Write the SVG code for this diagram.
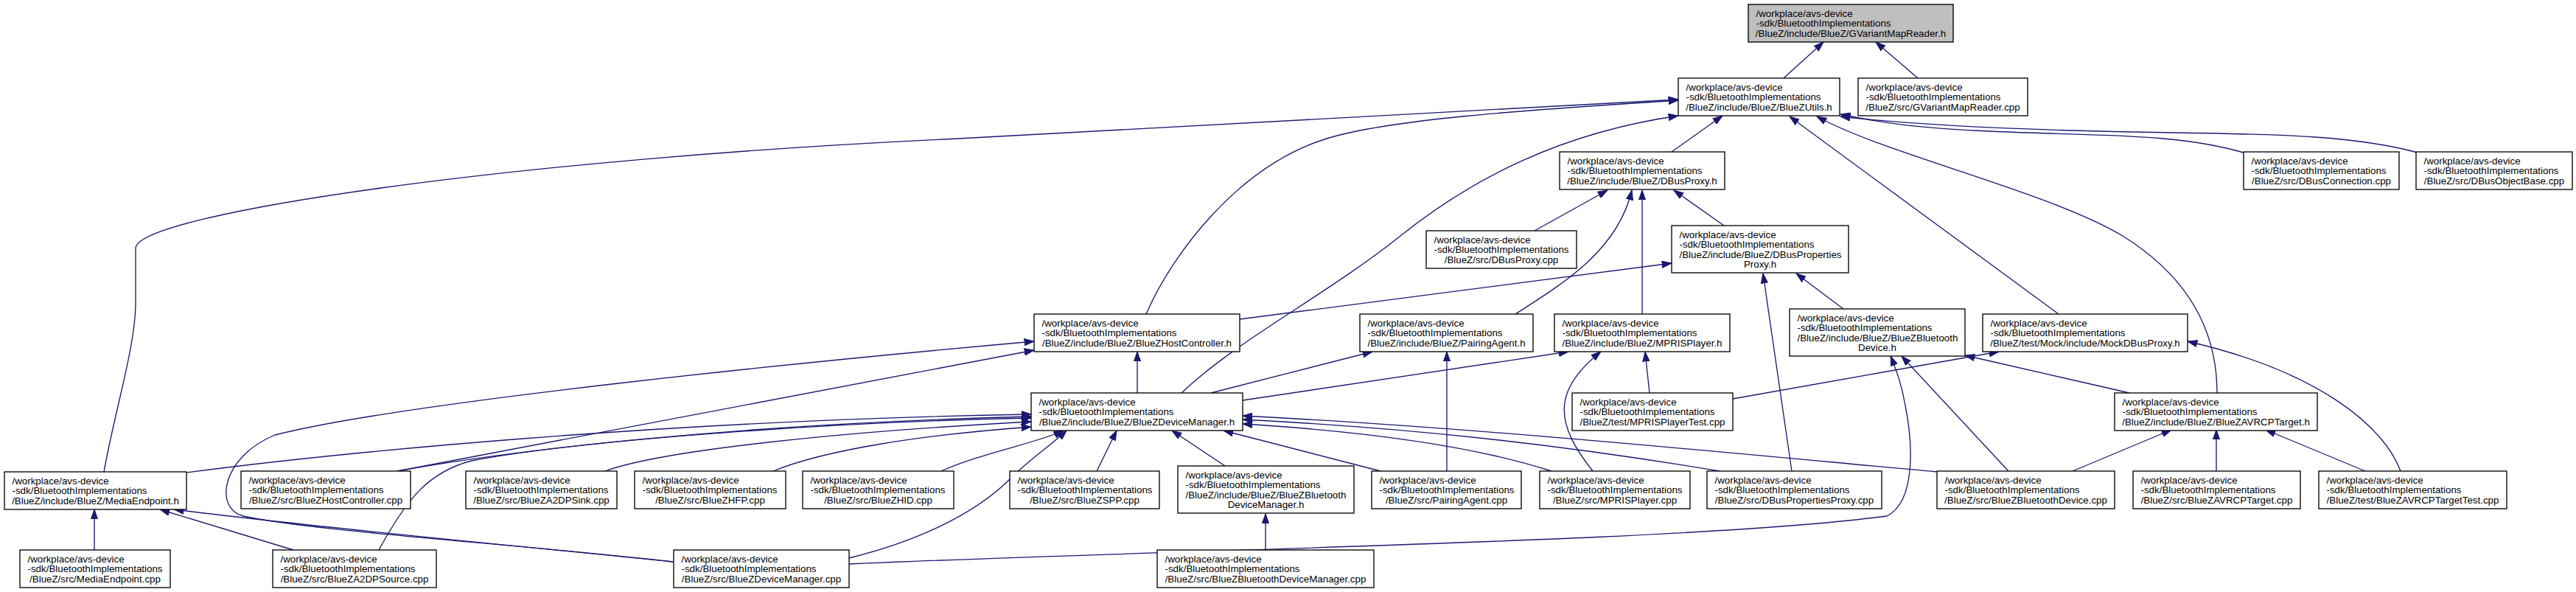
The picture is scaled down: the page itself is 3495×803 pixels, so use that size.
<svg xmlns="http://www.w3.org/2000/svg" width="3495" height="803" viewBox="0 0 3495 803">
<style>
.bg{fill:#ffffff}
.n rect{fill:#ffffff;stroke:#000000;stroke-width:1.33}
.n.root rect{fill:#bfbfbf}
.n text{font-family:"Liberation Sans",Arial,Helvetica,sans-serif;font-size:13.33px;fill:#000000}
.n .c{text-anchor:middle}
#edges path{fill:none;stroke:#191970;stroke-width:1.33;marker-end:url(#ah)}
</style>
<defs>
<marker id="ah" viewBox="0 0 14 10" refX="13.3" refY="5" markerWidth="14" markerHeight="10" markerUnits="userSpaceOnUse" orient="auto">
<path d="M0,0.3 L13.3,5 L0,9.7 Z" fill="#191970" stroke="#191970" stroke-width="1"/>
</marker>
</defs>
<rect class="bg" x="0" y="0" width="3495" height="803"/>

<g id="edges">
<path d="M2420,106 L2474,57"/>
<path d="M2602,106 L2545,57"/>
<path d="M2268,206 L2337,157"/>
<path d="M3044,207 C2950,180 2850,185 2700,178 C2600,174 2550,166 2497,155"/>
<path d="M3280,207 C3200,185 3100,182 2950,180 C2750,177 2600,170 2497,158"/>
<path d="M141,640 C155,560 184,470 184,410 L184,337 C184,290 700,215 1300,188 L2277,135"/>
<path d="M1555,426 C1590,345 1680,225 1800,188 C1900,157 2150,145 2277,136"/>
<path d="M1603,533 C1680,460 1800,400 1900,320 C2000,240 2120,180 2277,157"/>
<path d="M2793,426 L2428,158"/>
<path d="M3008,533 C3008,440 2960,370 2880,320 C2780,260 2560,210 2465,158"/>
<path d="M2082,313 L2181,258"/>
<path d="M2339,306 L2271,258"/>
<path d="M2056,426 C2120,385 2195,340 2214,258"/>
<path d="M2228,426 L2228,258"/>
<path d="M1682,433 L2268,357"/>
<path d="M2501,419 L2437,371"/>
<path d="M2431,639 L2392,371"/>
<path d="M1543,533 L1543,477"/>
<path d="M539,639 L1403,475"/>
<path d="M913,762 C700,738 420,720 330,700 C290,690 300,620 373,590 C550,545 1100,490 1403,463"/>
<path d="M1643,533 L1862,477"/>
<path d="M1963,639 L1963,477"/>
<path d="M1686,543 L2128,477"/>
<path d="M2238,533 L2232,477"/>
<path d="M2161,639 C2110,575 2105,530 2172,477"/>
<path d="M2351,541 L2712,477"/>
<path d="M3257,639 C3235,580 3150,505 2968,463"/>
<path d="M2889,533 L2666,482"/>
<path d="M2725,639 L2580,483"/>
<path d="M1152,765 C1600,745 2300,735 2560,700 C2600,680 2595,600 2585,550 C2580,520 2572,500 2565,483"/>
<path d="M253,641 C450,615 900,570 1399,562"/>
<path d="M539,639 C700,610 1000,575 1399,565"/>
<path d="M514,746 C550,680 580,640 640,625 C800,595 1150,572 1399,567"/>
<path d="M821,639 C900,610 1150,585 1399,572"/>
<path d="M1049,639 C1120,610 1250,590 1399,579"/>
<path d="M1277,639 C1330,615 1410,600 1443,584"/>
<path d="M1488,639 L1515,584"/>
<path d="M1662,632 L1590,584"/>
<path d="M1873,639 L1660,584"/>
<path d="M2105,639 C2000,605 1850,585 1686,575"/>
<path d="M2333,639 C2100,600 1900,580 1686,569"/>
<path d="M2628,640 C2300,610 2000,580 1686,564"/>
<path d="M1152,757 C1260,730 1330,690 1370,650 C1400,620 1425,605 1447,584"/>
<path d="M1717,746 L1717,697"/>
<path d="M2812,639 L2946,583"/>
<path d="M3007,639 L3007,583"/>
<path d="M3209,639 L3074,583"/>
<path d="M128,746 L128,691"/>
<path d="M398,746 L217,691"/>
<path d="M913,762 C700,740 450,718 236,691"/>
</g>

<g id="n_gvmr_h" class="n root"><rect x="2372" y="6" width="278" height="51"/><text><tspan x="2382.5" y="23">/workplace/avs-device</tspan><tspan x="2382.5" y="36.3">-sdk/BluetoothImplementations</tspan><tspan class="c" x="2511" y="49.7">/BlueZ/include/BlueZ/GVariantMapReader.h</tspan></text></g>
<g id="n_utils" class="n"><rect x="2277" y="106" width="219" height="51"/><text><tspan x="2287.5" y="123">/workplace/avs-device</tspan><tspan x="2287.5" y="136.3">-sdk/BluetoothImplementations</tspan><tspan class="c" x="2386.5" y="149.7">/BlueZ/include/BlueZ/BlueZUtils.h</tspan></text></g>
<g id="n_gvmr_cpp" class="n"><rect x="2521" y="106" width="230" height="51"/><text><tspan x="2531.5" y="123">/workplace/avs-device</tspan><tspan x="2531.5" y="136.3">-sdk/BluetoothImplementations</tspan><tspan class="c" x="2636" y="149.7">/BlueZ/src/GVariantMapReader.cpp</tspan></text></g>
<g id="n_dbusproxy_h" class="n"><rect x="2116" y="206" width="224" height="51"/><text><tspan x="2126.5" y="223">/workplace/avs-device</tspan><tspan x="2126.5" y="236.3">-sdk/BluetoothImplementations</tspan><tspan class="c" x="2228" y="249.7">/BlueZ/include/BlueZ/DBusProxy.h</tspan></text></g>
<g id="n_dbusconn" class="n"><rect x="3044" y="206" width="211" height="51"/><text><tspan x="3054.5" y="223">/workplace/avs-device</tspan><tspan x="3054.5" y="236.3">-sdk/BluetoothImplementations</tspan><tspan class="c" x="3149.5" y="249.7">/BlueZ/src/DBusConnection.cpp</tspan></text></g>
<g id="n_dbusobj" class="n"><rect x="3278" y="206" width="212" height="51"/><text><tspan x="3288.5" y="223">/workplace/avs-device</tspan><tspan x="3288.5" y="236.3">-sdk/BluetoothImplementations</tspan><tspan class="c" x="3384" y="249.7">/BlueZ/src/DBusObjectBase.cpp</tspan></text></g>
<g id="n_dbusproxy_cpp" class="n"><rect x="1935" y="313" width="204" height="51"/><text><tspan x="1945.5" y="330">/workplace/avs-device</tspan><tspan x="1945.5" y="343.3">-sdk/BluetoothImplementations</tspan><tspan class="c" x="2037" y="356.7">/BlueZ/src/DBusProxy.cpp</tspan></text></g>
<g id="n_dbusprops_h" class="n"><rect x="2268" y="306" width="240" height="64"/><text><tspan x="2278.5" y="323">/workplace/avs-device</tspan><tspan x="2278.5" y="336.3">-sdk/BluetoothImplementations</tspan><tspan x="2278.5" y="349.7">/BlueZ/include/BlueZ/DBusProperties</tspan><tspan class="c" x="2388" y="363">Proxy.h</tspan></text></g>
<g id="n_hostctrl_h" class="n"><rect x="1403" y="426" width="279" height="51"/><text><tspan x="1413.5" y="443">/workplace/avs-device</tspan><tspan x="1413.5" y="456.3">-sdk/BluetoothImplementations</tspan><tspan class="c" x="1542.5" y="469.7">/BlueZ/include/BlueZ/BlueZHostController.h</tspan></text></g>
<g id="n_pairing_h" class="n"><rect x="1845" y="426" width="235" height="51"/><text><tspan x="1855.5" y="443">/workplace/avs-device</tspan><tspan x="1855.5" y="456.3">-sdk/BluetoothImplementations</tspan><tspan class="c" x="1962.5" y="469.7">/BlueZ/include/BlueZ/PairingAgent.h</tspan></text></g>
<g id="n_mpris_h" class="n"><rect x="2109" y="426" width="238" height="51"/><text><tspan x="2119.5" y="443">/workplace/avs-device</tspan><tspan x="2119.5" y="456.3">-sdk/BluetoothImplementations</tspan><tspan class="c" x="2228" y="469.7">/BlueZ/include/BlueZ/MPRISPlayer.h</tspan></text></g>
<g id="n_btdev_h" class="n"><rect x="2428" y="419" width="238" height="64"/><text><tspan x="2438.5" y="436">/workplace/avs-device</tspan><tspan x="2438.5" y="449.3">-sdk/BluetoothImplementations</tspan><tspan x="2438.5" y="462.7">/BlueZ/include/BlueZ/BlueZBluetooth</tspan><tspan class="c" x="2547" y="476">Device.h</tspan></text></g>
<g id="n_mock_h" class="n"><rect x="2690" y="426" width="278" height="51"/><text><tspan x="2700.5" y="443">/workplace/avs-device</tspan><tspan x="2700.5" y="456.3">-sdk/BluetoothImplementations</tspan><tspan class="c" x="2829" y="469.7">/BlueZ/test/Mock/include/MockDBusProxy.h</tspan></text></g>
<g id="n_devmgr_h" class="n"><rect x="1399" y="533" width="287" height="51"/><text><tspan x="1409.5" y="550">/workplace/avs-device</tspan><tspan x="1409.5" y="563.3">-sdk/BluetoothImplementations</tspan><tspan class="c" x="1542.5" y="576.7">/BlueZ/include/BlueZ/BlueZDeviceManager.h</tspan></text></g>
<g id="n_mpristest" class="n"><rect x="2133" y="533" width="218" height="51"/><text><tspan x="2143.5" y="550">/workplace/avs-device</tspan><tspan x="2143.5" y="563.3">-sdk/BluetoothImplementations</tspan><tspan class="c" x="2242" y="576.7">/BlueZ/test/MPRISPlayerTest.cpp</tspan></text></g>
<g id="n_avrcp_h" class="n"><rect x="2869" y="533" width="275" height="51"/><text><tspan x="2879.5" y="550">/workplace/avs-device</tspan><tspan x="2879.5" y="563.3">-sdk/BluetoothImplementations</tspan><tspan class="c" x="3006.5" y="576.7">/BlueZ/include/BlueZ/BlueZAVRCPTarget.h</tspan></text></g>
<g id="n_mediaep_h" class="n"><rect x="6" y="640" width="247" height="51"/><text><tspan x="16.5" y="657">/workplace/avs-device</tspan><tspan x="16.5" y="670.3">-sdk/BluetoothImplementations</tspan><tspan class="c" x="129.5" y="683.7">/BlueZ/include/BlueZ/MediaEndpoint.h</tspan></text></g>
<g id="n_hostctrl_cpp" class="n"><rect x="327" y="639" width="230" height="51"/><text><tspan x="337.5" y="656">/workplace/avs-device</tspan><tspan x="337.5" y="669.3">-sdk/BluetoothImplementations</tspan><tspan class="c" x="442" y="682.7">/BlueZ/src/BlueZHostController.cpp</tspan></text></g>
<g id="n_a2dpsink" class="n"><rect x="632" y="639" width="205" height="51"/><text><tspan x="642.5" y="656">/workplace/avs-device</tspan><tspan x="642.5" y="669.3">-sdk/BluetoothImplementations</tspan><tspan class="c" x="734.5" y="682.7">/BlueZ/src/BlueZA2DPSink.cpp</tspan></text></g>
<g id="n_hfp" class="n"><rect x="861" y="639" width="205" height="51"/><text><tspan x="871.5" y="656">/workplace/avs-device</tspan><tspan x="871.5" y="669.3">-sdk/BluetoothImplementations</tspan><tspan class="c" x="963.5" y="682.7">/BlueZ/src/BlueZHFP.cpp</tspan></text></g>
<g id="n_hid" class="n"><rect x="1089" y="639" width="205" height="51"/><text><tspan x="1099.5" y="656">/workplace/avs-device</tspan><tspan x="1099.5" y="669.3">-sdk/BluetoothImplementations</tspan><tspan class="c" x="1191.5" y="682.7">/BlueZ/src/BlueZHID.cpp</tspan></text></g>
<g id="n_spp" class="n"><rect x="1370" y="639" width="203" height="51"/><text><tspan x="1380.5" y="656">/workplace/avs-device</tspan><tspan x="1380.5" y="669.3">-sdk/BluetoothImplementations</tspan><tspan class="c" x="1471.5" y="682.7">/BlueZ/src/BlueZSPP.cpp</tspan></text></g>
<g id="n_btdevmgr_h" class="n"><rect x="1598" y="632" width="239" height="64"/><text><tspan x="1608.5" y="649">/workplace/avs-device</tspan><tspan x="1608.5" y="662.3">-sdk/BluetoothImplementations</tspan><tspan x="1608.5" y="675.7">/BlueZ/include/BlueZ/BlueZBluetooth</tspan><tspan class="c" x="1717.5" y="689">DeviceManager.h</tspan></text></g>
<g id="n_pairing_cpp" class="n"><rect x="1861" y="639" width="203" height="51"/><text><tspan x="1871.5" y="656">/workplace/avs-device</tspan><tspan x="1871.5" y="669.3">-sdk/BluetoothImplementations</tspan><tspan class="c" x="1962.5" y="682.7">/BlueZ/src/PairingAgent.cpp</tspan></text></g>
<g id="n_mpris_cpp" class="n"><rect x="2089" y="639" width="204" height="51"/><text><tspan x="2099.5" y="656">/workplace/avs-device</tspan><tspan x="2099.5" y="669.3">-sdk/BluetoothImplementations</tspan><tspan class="c" x="2191" y="682.7">/BlueZ/src/MPRISPlayer.cpp</tspan></text></g>
<g id="n_dbusprops_cpp" class="n"><rect x="2316" y="639" width="237" height="51"/><text><tspan x="2326.5" y="656">/workplace/avs-device</tspan><tspan x="2326.5" y="669.3">-sdk/BluetoothImplementations</tspan><tspan class="c" x="2434.5" y="682.7">/BlueZ/src/DBusPropertiesProxy.cpp</tspan></text></g>
<g id="n_btdev_cpp" class="n"><rect x="2628" y="639" width="241" height="51"/><text><tspan x="2638.5" y="656">/workplace/avs-device</tspan><tspan x="2638.5" y="669.3">-sdk/BluetoothImplementations</tspan><tspan class="c" x="2748.5" y="682.7">/BlueZ/src/BlueZBluetoothDevice.cpp</tspan></text></g>
<g id="n_avrcp_cpp" class="n"><rect x="2894" y="639" width="227" height="51"/><text><tspan x="2904.5" y="656">/workplace/avs-device</tspan><tspan x="2904.5" y="669.3">-sdk/BluetoothImplementations</tspan><tspan class="c" x="3007.5" y="682.7">/BlueZ/src/BlueZAVRCPTarget.cpp</tspan></text></g>
<g id="n_avrcptest" class="n"><rect x="3146" y="639" width="255" height="51"/><text><tspan x="3156.5" y="656">/workplace/avs-device</tspan><tspan x="3156.5" y="669.3">-sdk/BluetoothImplementations</tspan><tspan class="c" x="3273.5" y="682.7">/BlueZ/test/BlueZAVRCPTargetTest.cpp</tspan></text></g>
<g id="n_mediaep_cpp" class="n"><rect x="27" y="746" width="204" height="51"/><text><tspan x="37.5" y="763">/workplace/avs-device</tspan><tspan x="37.5" y="776.3">-sdk/BluetoothImplementations</tspan><tspan class="c" x="129" y="789.7">/BlueZ/src/MediaEndpoint.cpp</tspan></text></g>
<g id="n_a2dpsrc" class="n"><rect x="370" y="746" width="222" height="51"/><text><tspan x="380.5" y="763">/workplace/avs-device</tspan><tspan x="380.5" y="776.3">-sdk/BluetoothImplementations</tspan><tspan class="c" x="481" y="789.7">/BlueZ/src/BlueZA2DPSource.cpp</tspan></text></g>
<g id="n_devmgr_cpp" class="n"><rect x="914" y="746" width="238" height="51"/><text><tspan x="924.5" y="763">/workplace/avs-device</tspan><tspan x="924.5" y="776.3">-sdk/BluetoothImplementations</tspan><tspan class="c" x="1033" y="789.7">/BlueZ/src/BlueZDeviceManager.cpp</tspan></text></g>
<g id="n_btdevmgr_cpp" class="n"><rect x="1570" y="746" width="294" height="51"/><text><tspan x="1580.5" y="763">/workplace/avs-device</tspan><tspan x="1580.5" y="776.3">-sdk/BluetoothImplementations</tspan><tspan class="c" x="1717" y="789.7">/BlueZ/src/BlueZBluetoothDeviceManager.cpp</tspan></text></g>
</svg>
